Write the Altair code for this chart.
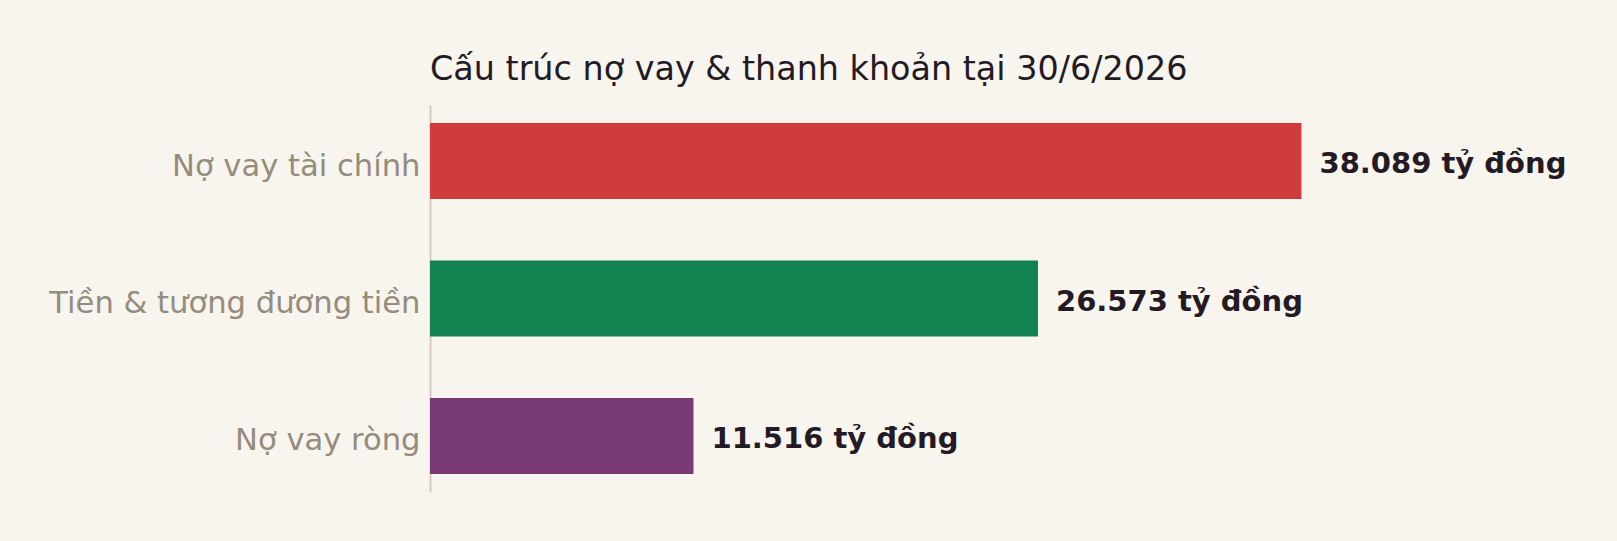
import altair as alt
import pandas as pd

categories = ["Nợ vay tài chính", "Tiền & tương đương tiền", "Nợ vay ròng"]
values = [38089, 26573, 11516]
value_labels = ["38.089 tỷ đồng", "26.573 tỷ đồng", "11.516 tỷ đồng"]
colors = ["#d03c3e", "#138251", "#7a3a76"]

BG = "#f8f5ef"
FONT = "DejaVu Sans"

df = pd.DataFrame({"cat": categories, "val": values, "lab": value_labels, "col": colors})

y_enc = alt.Y(
    "cat:N",
    sort=categories,
    title=None,
    scale=alt.Scale(paddingInner=0.447, paddingOuter=0.131),
    axis=alt.Axis(
        ticks=False,
        domain=True,
        domainColor="#d6cbb8",
        domainWidth=2,
        labelFont=FONT,
        labelFontSize=30.6,
        labelColor="#958c7d",
        labelPadding=10,
        labelOffset=5.5,
        grid=False,
        labelLimit=600,
    ),
)
x_enc = alt.X("val:Q", title=None, scale=alt.Scale(domain=[0, 50000], nice=False), axis=None)

bars = alt.Chart(df).mark_bar().encode(
    x=x_enc,
    y=y_enc,
    color=alt.Color("col:N", scale=None),
)

texts = alt.Chart(df).mark_text(
    align="left", baseline="middle", dx=18, dy=3, font=FONT, fontSize=29, fontWeight="bold", color="#231a23"
).encode(
    x=x_enc,
    y=alt.Y("cat:N", sort=categories),
    text="lab:N",
)

chart = (
    (bars + texts)
    .properties(
        width=1144,
        height=387,
        title=alt.TitleParams(
            "Cấu trúc nợ vay & thanh khoản tại 30/6/2026",
            anchor="start",
            frame="group",
            font=FONT,
            fontSize=33.4,
            fontWeight="normal",
            color="#231a23",
            baseline="alphabetic",
            offset=-8,
        ),
        autosize=alt.AutoSizeParams(type="none"),
        padding={"left": 422, "top": 97, "right": 30, "bottom": 20},
        background=BG,
    )
    .configure_view(stroke=None)
)

TEMPLATE_SRC = """<!DOCTYPE html>
<html>
<head>
  <style>
    body { background: %s; }
    #{{ output_div }}.vega-embed { width: 100%%; display: flex; }
  </style>
  <script type="text/javascript" src="{{ base_url }}/vega@{{ vega_version }}"></script>
  <script type="text/javascript" src="{{ base_url }}/vega-lite@{{ vegalite_version }}"></script>
  <script type="text/javascript" src="{{ base_url }}/vega-embed@{{ vegaembed_version }}"></script>
</head>
<body>
  <div id="{{ output_div }}"></div>
  <script type="text/javascript">
    var spec = {{ spec }};
    var embedOpt = {{ embed_options }};
    vegaEmbed("#{{ output_div }}", spec, embedOpt).catch(console.error);
  </script>
</body>
</html>
""" % BG

try:
    import jinja2
    tmpl = jinja2.Template(TEMPLATE_SRC)
    chart.save("out.html", embed_options={"renderer": "svg", "actions": False}, template=tmpl)
except Exception:
    chart.save("out.html", embed_options={"renderer": "svg", "actions": False})
